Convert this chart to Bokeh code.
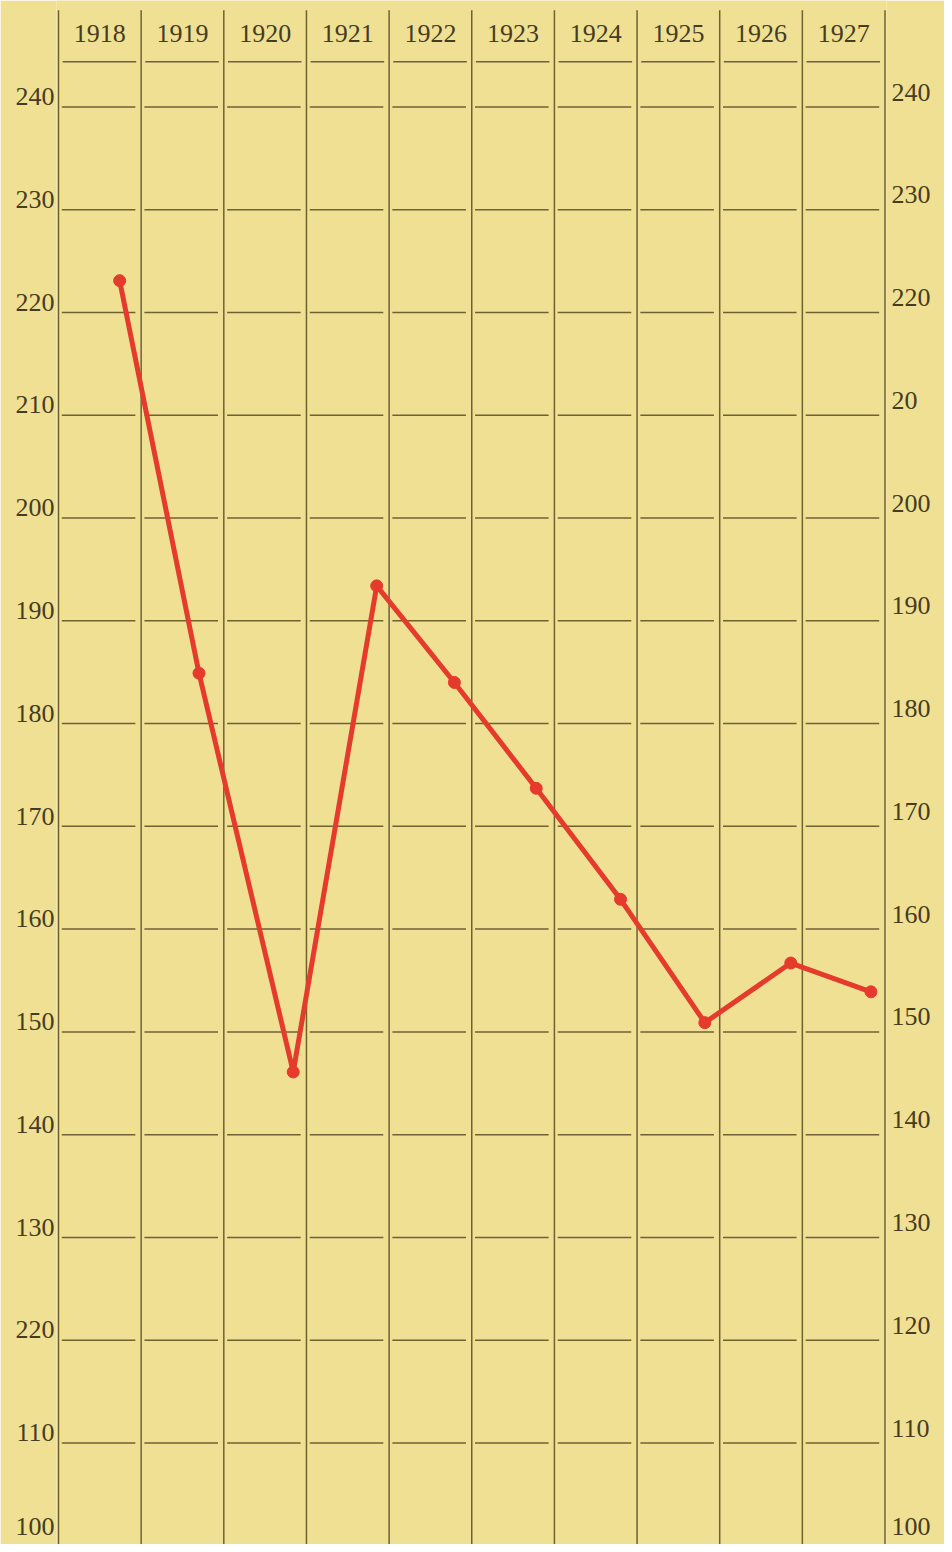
from bokeh.plotting import figure
from bokeh.models import Range1d, LinearAxis, FixedTicker, ColumnDataSource
from bokeh.core.properties import value
from bokeh.embed import file_html
from bokeh.resources import INLINE

# ---- data ----
years = [1918, 1919, 1920, 1921, 1922, 1923, 1924, 1925, 1926, 1927]
year_labels = ["1918", "1919", "1920", "1921", "1922", "1923", "1924", "1925", "1926", "1927"]
# time of each reading within its year (fraction of year elapsed)
point_time = [1918.74, 1919.70, 1920.84, 1921.85, 1922.79, 1923.78, 1924.80, 1925.82, 1926.86, 1927.83]
point_value = [223.1, 184.9, 146.1, 193.4, 184.0, 173.7, 162.9, 150.9, 156.7, 153.9]
grid_levels = [110, 120, 130, 140, 150, 160, 170, 180, 190, 200, 210, 220, 230, 240]
tick_values = [100, 110, 120, 130, 140, 150, 160, 170, 180, 190, 200, 210, 220, 230, 240]
left_labels = ["100", "110", "220", "130", "140", "150", "160", "170", "180", "190", "200", "210", "220", "230", "240"]
right_labels = ["100", "110", "120", "130", "140", "150", "160", "170", "180", "190", "200", "20", "220", "230", "240"]

BG = "#efe093"
INK = "#463c22"
RULE = "#6f6135"
RED = "#e43b2d"
FONT = "Liberation Serif"

y_bottom, y_top = 100.12, 250.36
p = figure(width=944, height=1544, output_backend="svg", toolbar_location=None,
           x_range=Range1d(1917.9758, 1928.0181), y_range=Range1d(y_bottom, y_top),
           x_axis_location=None, min_border_left=56, min_border_right=58,
           min_border_top=0, min_border_bottom=0)
p.background_fill_color = BG
p.border_fill_color = BG
p.outline_line_color = None
p.grid.visible = False

# vertical column rules
edges = years + [years[-1] + 1]
p.segment(x0=edges, x1=edges, y0=[249.4] * len(edges), y1=[y_bottom] * len(edges),
          line_color=RULE, line_width=1.5)

# horizontal rules, drawn per column with small gaps
hx0, hx1, hy = [], [], []
for yr in years:
    for lv in grid_levels:
        hx0.append(yr + 0.04)
        hx1.append(yr + 0.93)
        hy.append(lv)
    hx0.append(yr + 0.05)
    hx1.append(yr + 0.94)
    hy.append(244.4)
p.segment(x0=hx0, x1=hx1, y0=hy, y1=hy, line_color=RULE, line_width=1.5)

# year header
hdr = ColumnDataSource(dict(x=[y + 0.5 for y in years], y=[247.15] * len(years), t=year_labels))
p.text(x="x", y="y", text="t", source=hdr, text_align="center", text_baseline="middle",
       text_font=value(FONT), text_font_size="26px", text_color=INK)

# data line
p.line(point_time, point_value, line_color=RED, line_width=5, line_join="round")
p.scatter(point_time, point_value, size=12, fill_color=RED, line_color=RED)

# axes (labels sit just above their rule; kept inside the picture at the bottom)
min_label_pos = y_bottom + 1.8


def lifted(v, lift):
    return max(v + lift, min_label_pos)


left_lift, right_lift = 1.0, 1.45
ly = p.yaxis[0]
ly.ticker = FixedTicker(ticks=[lifted(v, left_lift) for v in tick_values], minor_ticks=[])
ly.major_label_overrides = {lifted(v, left_lift): s for v, s in zip(tick_values, left_labels)}
ry = LinearAxis(ticker=FixedTicker(ticks=[lifted(v, right_lift) for v in tick_values], minor_ticks=[]))
ry.major_label_overrides = {lifted(v, right_lift): s for v, s in zip(tick_values, right_labels)}
p.add_layout(ry, "right")
for ax, so in ((ly, 2), (ry, 5)):
    ax.axis_line_color = None
    ax.major_tick_line_color = None
    ax.minor_tick_line_color = None
    ax.major_tick_out = 0
    ax.major_tick_in = 0
    ax.minor_tick_out = 0
    ax.minor_tick_in = 0
    ax.major_label_standoff = so
    ax.major_label_text_font = FONT
    ax.major_label_text_font_size = "26px"
    ax.major_label_text_color = INK

open("out.html", "w").write(file_html(p, INLINE))
